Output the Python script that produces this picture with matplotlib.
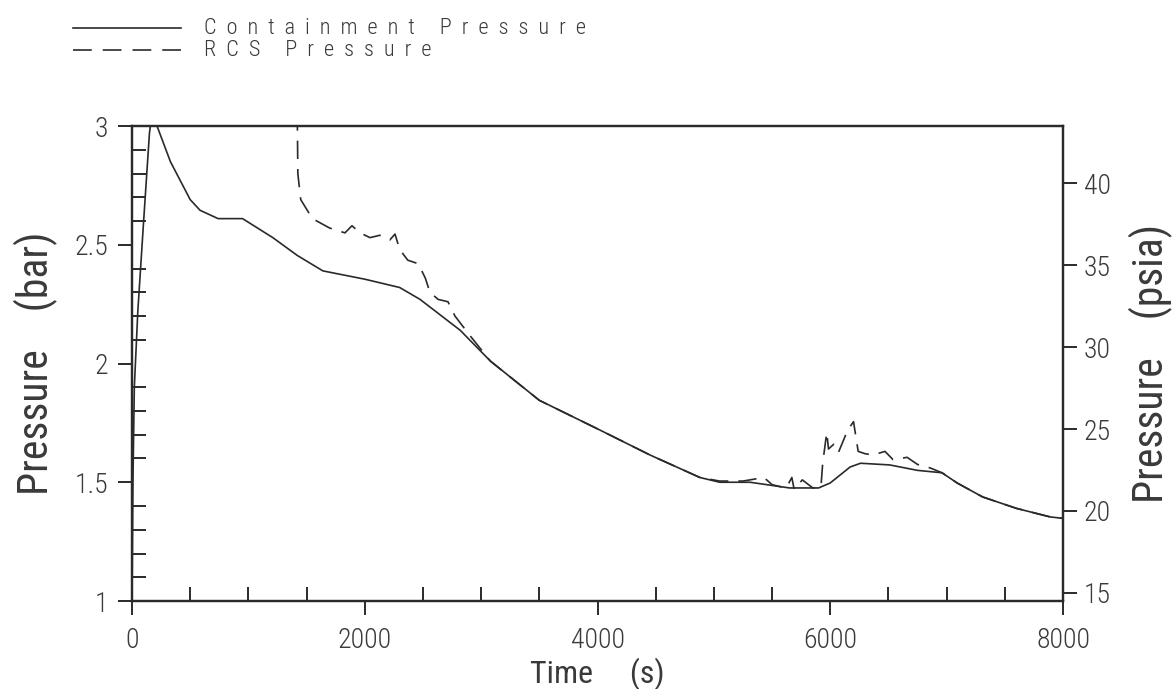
import numpy as np
import matplotlib
matplotlib.use("Agg")
import matplotlib.pyplot as plt
from matplotlib.lines import Line2D

plt.rcParams['font.family'] = ['Roboto Condensed', 'IBM Plex Sans Condensed', 'DejaVu Sans']
plt.rcParams['font.weight'] = 'light'

# containment pressure (bar) vs time (s)
cont_t = [0, 8, 20, 50, 100, 150, 185, 215, 330, 500, 585, 740, 950, 1210, 1420, 1640,
          2000, 2300, 2475, 2820, 3080, 3500, 4020, 4450, 4880, 5050, 5310, 5650, 5900,
          6000, 6170, 6260, 6510, 6750, 6960, 7090, 7310, 7600, 7890, 8000]
cont_p = [1.0, 1.5, 1.9, 2.22, 2.6, 2.97, 3.1, 3.0, 2.85, 2.69, 2.645, 2.61, 2.61, 2.53, 2.455, 2.39,
          2.355, 2.32, 2.27, 2.14, 2.01, 1.845, 1.72, 1.615, 1.52, 1.50, 1.50, 1.476, 1.476,
          1.497, 1.564, 1.58, 1.573, 1.55, 1.54, 1.497, 1.438, 1.39, 1.354, 1.348]

# RCS pressure (bar) vs time (s)
rcs_t = [1410, 1425, 1450, 1550, 1700, 1830, 1890, 1960, 2045, 2130, 2215, 2260, 2300, 2370,
         2460, 2520, 2560, 2630, 2715, 2775, 2900, 3080, 3500, 4020, 4450, 4880, 5050, 5250,
         5430, 5500, 5620, 5670, 5690, 5760, 5850, 5920, 5935, 5970, 5985, 6030, 6070, 6150,
         6200, 6240, 6300, 6370, 6470, 6540, 6660, 6750, 6860, 6960, 7090, 7310, 7600, 7890, 8000]
rcs_p = [3.6, 2.8, 2.69, 2.61, 2.57, 2.55, 2.58, 2.55, 2.53, 2.54, 2.52, 2.545, 2.48, 2.435,
         2.42, 2.36, 2.30, 2.27, 2.26, 2.20, 2.12, 2.01, 1.845, 1.72, 1.615, 1.52, 1.505, 1.505,
         1.52, 1.49, 1.475, 1.52, 1.47, 1.51, 1.476, 1.48, 1.58, 1.71, 1.64, 1.66, 1.625, 1.72,
         1.755, 1.63, 1.62, 1.615, 1.63, 1.595, 1.605, 1.575, 1.56, 1.54, 1.497, 1.438, 1.39, 1.354, 1.348]

x_ticks = [0, 2000, 4000, 6000, 8000]
x_labels = ['0', '2000', '4000', '6000', '8000']
bar_ticks = [1, 1.5, 2, 2.5, 3]
bar_labels = ['1', '1.5', '2', '2.5', '3']
psia_ticks = [15, 20, 25, 30, 35, 40]
BAR_TO_PSIA = 14.5038


def spaced(text):
    # wide letter spacing as in the plotter legend
    return (' ' * 5).join('  '.join(word) for word in text.split())


ink = '#2a2a2a'
txt = '#3a3a3a'
W, H = 1172, 689
fig = plt.figure(figsize=(W / 100, H / 100), dpi=100)
ax = fig.add_axes([132 / W, (H - 601) / H, (1063 - 132) / W, (601 - 126) / H])

ax.plot(cont_t, cont_p, color=ink, lw=1.2)
ax.plot(rcs_t, rcs_p, color=ink, lw=1.2, linestyle=(0, (11, 6)))

ax.set_xlim(0, 8000)
ax.set_ylim(1, 3)
ax.set_xticks(x_ticks)
ax.set_xticklabels(x_labels)
ax.set_xticks(np.arange(0, 8001, 500), minor=True)
ax.set_yticks(bar_ticks)
ax.set_yticklabels(bar_labels)
ax.set_yticks(np.arange(1.0, 3.001, 0.1), minor=True)
ax.tick_params(which='major', direction='out', length=10, width=1.4, color=ink,
               labelsize=20, labelcolor=txt)
ax.tick_params(axis='x', which='major', pad=9)
ax.tick_params(axis='y', which='major', pad=7)
ax.tick_params(which='minor', direction='in', length=10, width=1.4, color=ink)
for s in ax.spines.values():
    s.set_linewidth(1.6)
    s.set_color(ink)

ax.set_xlabel('Time     (s)', fontsize=23, color=txt, labelpad=2)
ax.set_ylabel('Pressure    (bar)', fontsize=30, color=txt)
ax.yaxis.set_label_coords(-0.079, 0.5)

ax2 = ax.twinx()
ax2.set_ylim(1 * BAR_TO_PSIA, 3 * BAR_TO_PSIA)
ax2.set_yticks(psia_ticks)
ax2.tick_params(which='major', direction='out', length=10, width=1.4, color=ink,
                labelsize=20, labelcolor=txt, pad=5)
for s in ax2.spines.values():
    s.set_linewidth(1.6)
    s.set_color(ink)
ax2.set_ylabel('Pressure    (psia)', fontsize=30, color=txt)
ax2.yaxis.set_label_coords(1.071, 0.5)

# legend drawn at the top-left corner of the figure
fig.add_artist(Line2D([73 / W, 181 / W], [1 - 28 / H, 1 - 28 / H], transform=fig.transFigure,
                      color=ink, lw=1.2))
fig.add_artist(Line2D([73 / W, 181 / W], [1 - 50 / H, 1 - 50 / H], transform=fig.transFigure,
                      color=ink, lw=1.2, linestyle=(0, (11.25, 6.6))))
fig.text(204 / W, 1 - 28 / H, spaced('Containment Pressure'),
         fontsize=16, color=txt, va='center', ha='left')
fig.text(204 / W, 1 - 50 / H, spaced('RCS Pressure'),
         fontsize=16, color=txt, va='center', ha='left')

fig.savefig('out.png', dpi=100)
